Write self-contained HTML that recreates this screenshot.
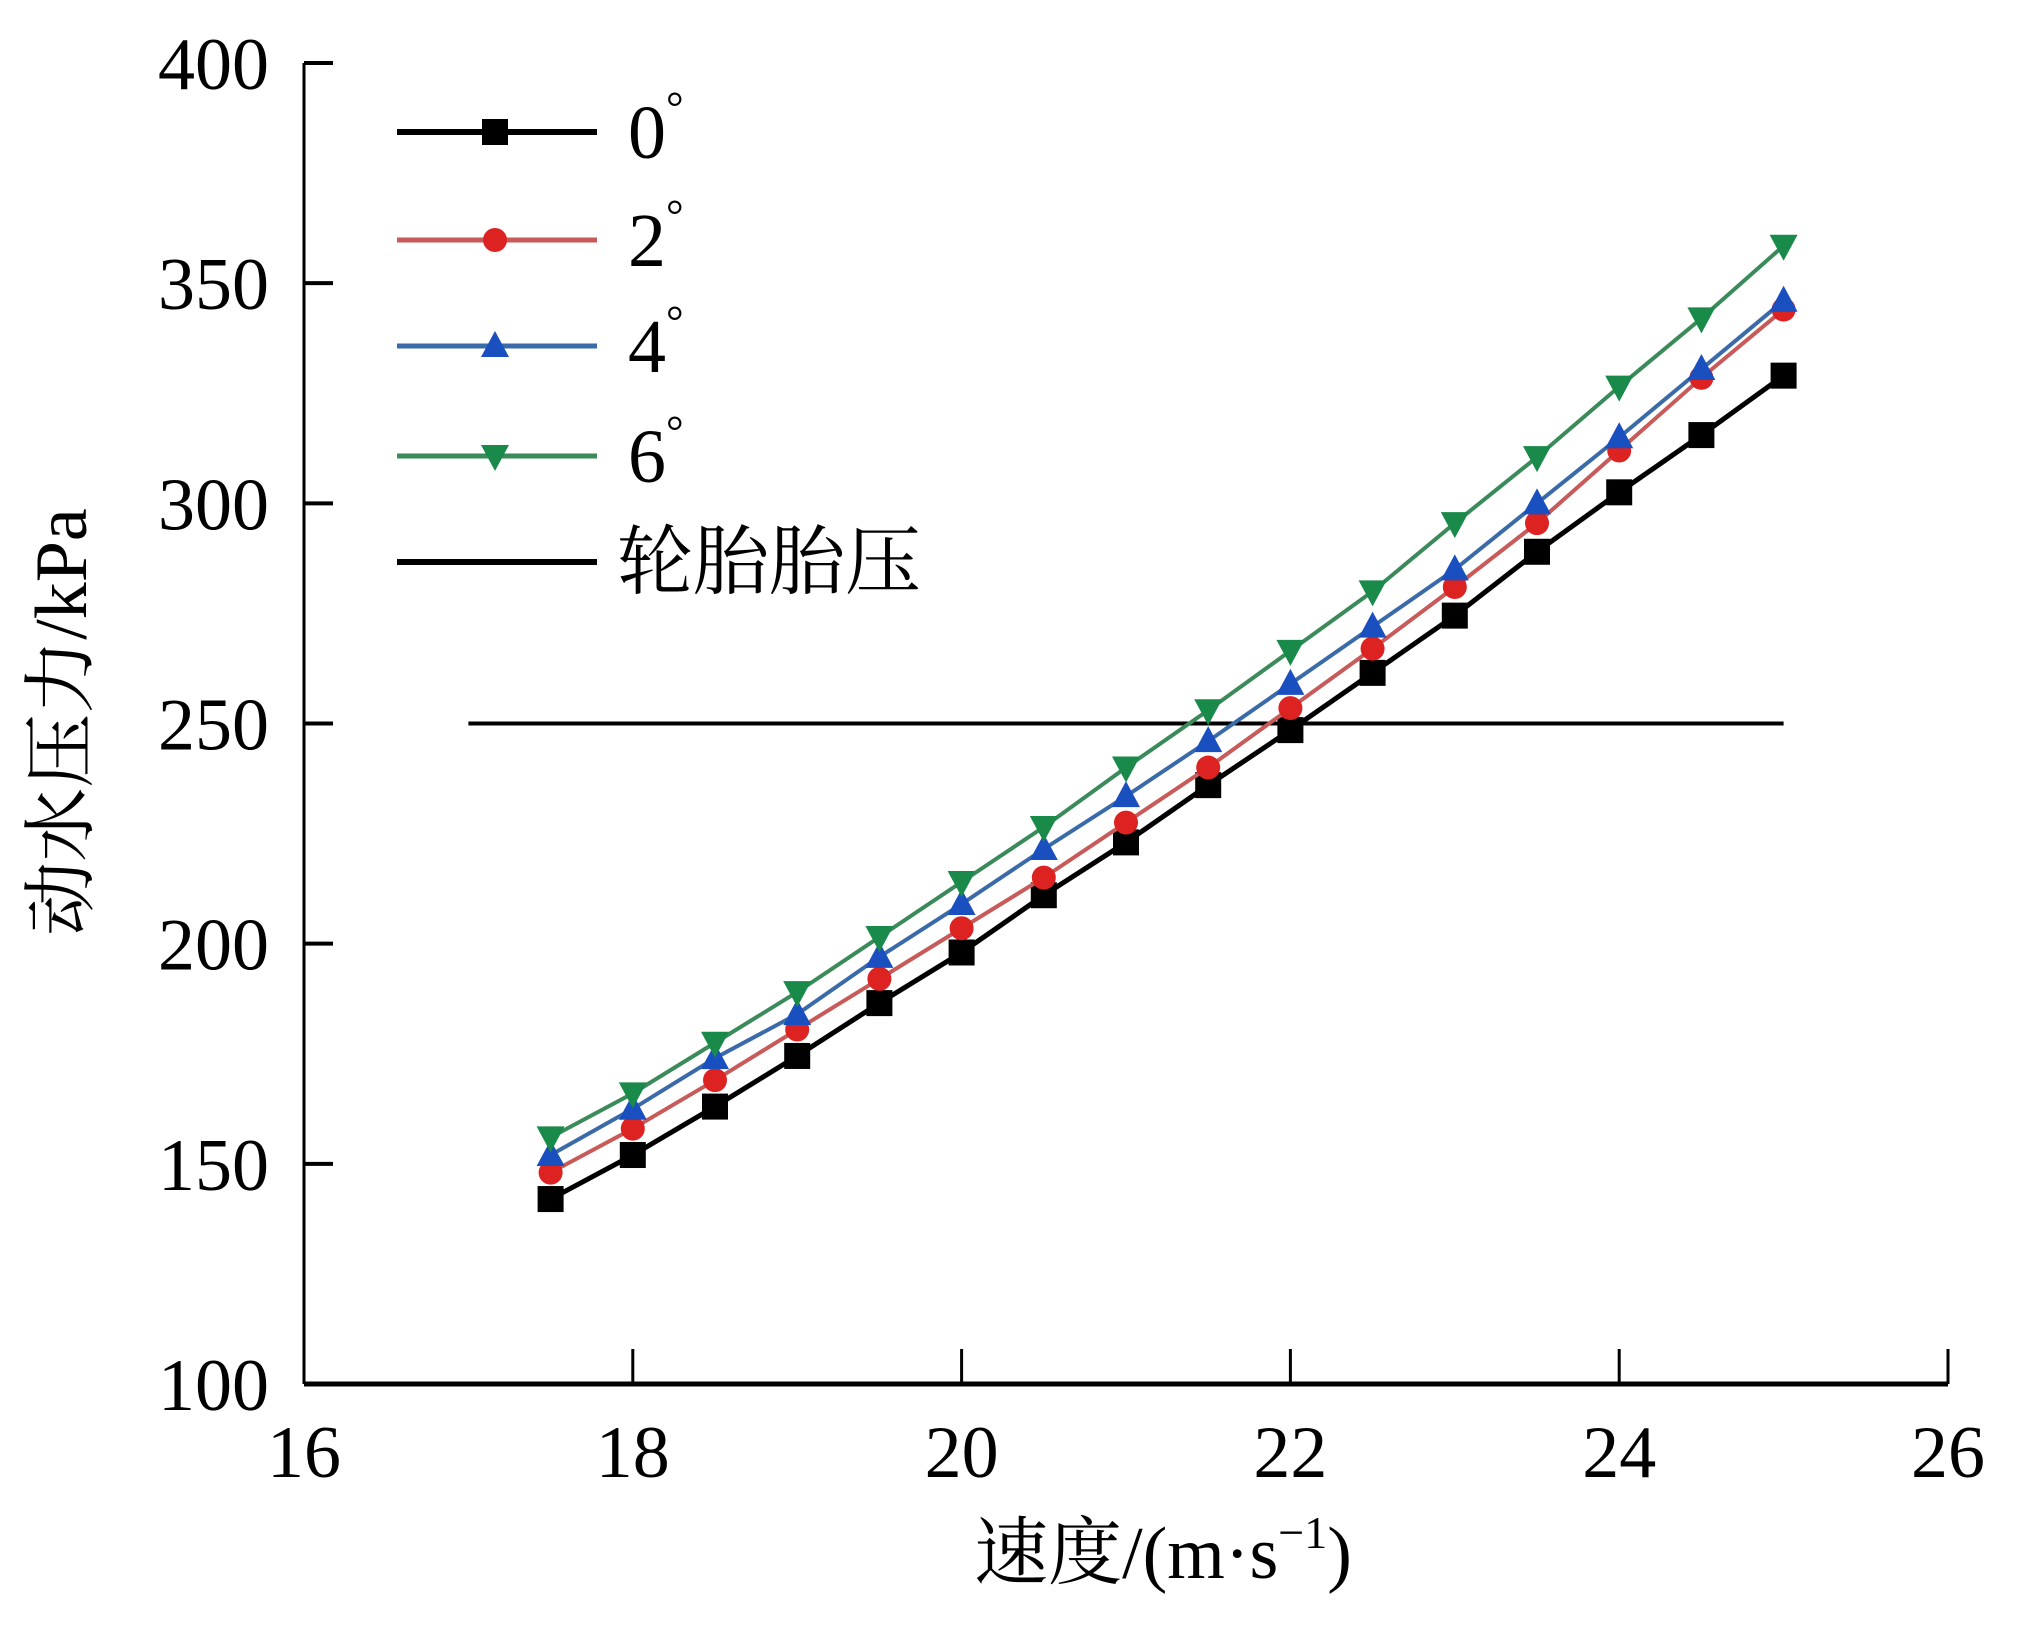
<!DOCTYPE html>
<html><head><meta charset="utf-8"><style>
body{margin:0;background:#fff}
svg text{font-family:"Liberation Serif","Noto Serif CJK SC","Noto Sans CJK SC",serif;fill:#000}
</style></head><body>
<svg id="chart" width="2025" height="1631" xmlns="http://www.w3.org/2000/svg">
<g id="axes"></g>
<g id="series"></g>
<g id="legend"></g>
<text x="1163" y="1578" font-size="74" text-anchor="middle">速度/(m·s<tspan dy="-30" font-size="46">−1</tspan><tspan dy="30">)</tspan></text>
<text transform="translate(86,722) rotate(-90)" font-size="74" text-anchor="middle">动水压力/kPa</text>
</svg>
<script>
const speeds=[17.5,18,18.5,19,19.5,20,20.5,21,21.5,22,22.5,23,23.5,24,24.5,25];
const s0=[142,152,163,174.5,186.5,198,211,223,236,248.5,261.5,274.5,289,302.5,315.5,329];
const s2=[148,158,169,180.5,192,203.5,215,227.5,240,253.5,267,281,295.5,312,328.5,344];
const s4=[152,162.5,174,184,197,209,221.5,233.5,246,259,272,285,300,315,330.5,346];
const s6=[156,166,177.5,189,201.5,214,226.5,240,253,266.5,280,295.5,310.5,326.5,342,358.5];
const tireX=[17,25];
const tireP=250;
const xTicks=[16,18,20,22,24,26];
const yTicks=[100,150,200,250,300,350,400];
const seriesNames=["0°","2°","4°","6°"];

const NS="http://www.w3.org/2000/svg";
const X=v=>304+(v-16)/10*1644;
const Y=v=>1384-(v-100)/300*1321;
function mk(p,tag,at){const e=document.createElementNS(NS,tag);for(const k in at)e.setAttribute(k,at[k]);p.appendChild(e);return e;}
const axes=document.getElementById('axes');
let e=mk(axes,'line',{x1:X(16),y1:Y(100),x2:X(26),y2:Y(100),stroke:'#000','stroke-width':5});


e=mk(axes,'line',{x1:X(16),y1:Y(100),x2:X(16),y2:Y(400),stroke:'#000','stroke-width':3});


xTicks.forEach(t=>{
 let l=mk(axes,'line',{x1:X(t),y1:Y(100),x2:X(t),y2:Y(100)-35,stroke:'#000','stroke-width':3});
 
 
 let tx=mk(axes,'text',{x:X(t),y:1477,'font-size':74,'text-anchor':'middle'});tx.textContent=t;
 
 
});
yTicks.forEach(t=>{
 let l=mk(axes,'line',{x1:X(16),y1:Y(t),x2:X(16)+29,y2:Y(t),stroke:'#000','stroke-width':4});
 
 
 let tx=mk(axes,'text',{x:269,y:Y(t)+26,'font-size':74,'text-anchor':'end'});tx.textContent=t;
 
 
});
const ser=document.getElementById('series');
e=mk(ser,'line',{x1:X(tireX[0]),y1:Y(tireP),x2:X(tireX[1]),y2:Y(tireP),stroke:'#000','stroke-width':4});


const cols=['#000','#d22','#1a4fc0','#1a8a4a'];
const lcols=['#000','#c85a5a','#3a6aa8','#3a8a5a'];
function marker(p,k,x,y,c){
 let m;
 if(k==0)m=mk(p,'rect',{x:x-13,y:y-13,width:26,height:26,fill:c});
 else if(k==1)m=mk(p,'circle',{cx:x,cy:y,r:12,fill:c});
 else if(k==2)m=mk(p,'polygon',{points:`${x},${y-15} ${x+14},${y+11} ${x-14},${y+11}`,fill:c});
 else m=mk(p,'polygon',{points:`${x},${y+15} ${x+14},${y-11} ${x-14},${y-11}`,fill:c});
 return m;
}
[s0,s2,s4,s6].forEach((arr,k)=>{
 const g=mk(ser,'g',{});
 
 
 const pl=mk(g,'polyline',{points:speeds.map((s,i)=>X(s)+','+Y(arr[i])).join(' '),fill:'none',stroke:lcols[k],'stroke-width':k==0?5:4});
 
 
 speeds.forEach((s,i)=>{const m=marker(g,k,X(s),Y(arr[i]),cols[k]);
  
  });
});
const lg=document.getElementById('legend');
const ry=[132,240,346,456];
seriesNames.forEach((n,k)=>{
 const g=mk(lg,'g',{});
 
 
 mk(g,'line',{x1:397,y1:ry[k],x2:597,y2:ry[k],stroke:lcols[k],'stroke-width':k==0?6:5});
 marker(g,k,495,ry[k],cols[k]);
 const t=mk(g,'text',{x:628,y:ry[k]+26,'font-size':76});
 t.innerHTML=n[0]+'<tspan dy="-36" font-size="44">°</tspan>';
});
const g=mk(lg,'g',{});


mk(g,'line',{x1:397,y1:562,x2:597,y2:562,stroke:'#000','stroke-width':6});
const t=mk(g,'text',{x:617,y:588,'font-size':76});t.textContent='轮胎胎压';
</script>
</body></html>
